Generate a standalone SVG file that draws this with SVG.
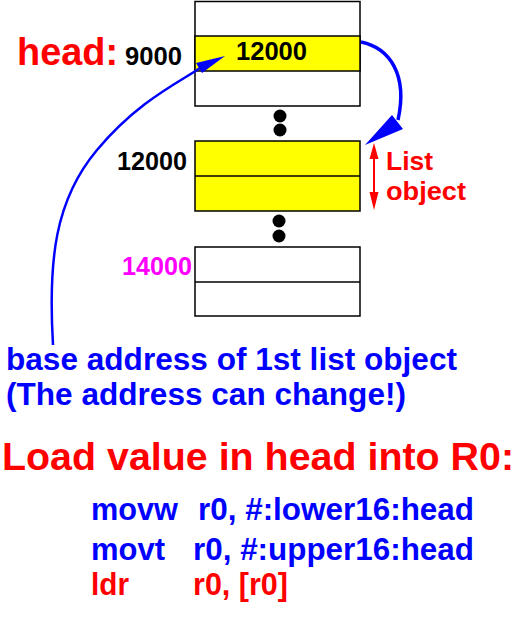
<svg xmlns="http://www.w3.org/2000/svg" width="527" height="631" viewBox="0 0 527 631">
<style>
text{font-family:"Liberation Sans",Arial,sans-serif;font-weight:bold}
.box{fill:#ffffff;stroke:#000000;stroke-width:1.5}
.yel{fill:#ffff00;stroke:#000000;stroke-width:1.5}
.div{stroke:#000000;stroke-width:1.5}
.num{font-size:25px;fill:#000000}
.blue{fill:#0000ff}
.red{fill:#ff0000}
</style>
<rect width="527" height="631" fill="#ffffff"/>
<g id="node-head-cell">
<rect class="box" x="195" y="1.5" width="165" height="104.5"/>
<rect class="yel" x="195" y="36" width="165" height="35"/>
<text class="num" x="236" y="60" textLength="71" lengthAdjust="spacingAndGlyphs">12000</text>
</g>
<g id="node-head-label">
<text x="17" y="65" font-size="38" class="red" textLength="101" lengthAdjust="spacingAndGlyphs">head:</text>
<text class="num" x="125" y="65" font-size="24" textLength="57" lengthAdjust="spacingAndGlyphs">9000</text>
</g>
<g id="node-dots1">
<circle cx="280" cy="116" r="6.5"/>
<circle cx="280" cy="130" r="6.5"/>
</g>
<g id="node-list-object">
<rect class="yel" x="195" y="141" width="165" height="70"/>
<line class="div" x1="195" y1="176" x2="360" y2="176"/>
<text class="num" x="117" y="170" textLength="70" lengthAdjust="spacingAndGlyphs">12000</text>
</g>
<g id="node-dots2">
<circle cx="279" cy="221" r="6.5"/>
<circle cx="279" cy="236" r="6.5"/>
</g>
<g id="node-third">
<rect class="box" x="195" y="247" width="165" height="69"/>
<line class="div" x1="195" y1="282" x2="360" y2="282"/>
<text class="num" x="122" y="275" style="fill:#ff00ff" textLength="70" lengthAdjust="spacingAndGlyphs">14000</text>
</g>
<g id="node-list-label">
<text x="386" y="170" font-size="26" class="red" textLength="47" lengthAdjust="spacingAndGlyphs">List</text>
<text x="386" y="200" font-size="26" class="red" textLength="80" lengthAdjust="spacingAndGlyphs">object</text>
</g>
<g id="connectors">
<path d="M361,42 C390,48 408,75 398,120" fill="none" stroke="#0000ff" stroke-width="3.5"/>
<polygon points="365,145 392,115 403,129" fill="#0000ff"/>
<path d="M53,345 C48,260 55,200 97,150 S180,82 200,68" fill="none" stroke="#0000ff" stroke-width="2.5"/>
<polygon points="225,56 196,63 202,73" fill="#0000ff"/>
<line x1="374" y1="152" x2="374" y2="200" stroke="#ff0000" stroke-width="2"/>
<polygon points="374,143 369.5,159 378.5,159" fill="#ff0000"/>
<polygon points="374,210 369.5,192 378.5,192" fill="#ff0000"/>
</g>
<g id="node-caption">
<text x="6" y="370" font-size="31.5" class="blue" textLength="451" lengthAdjust="spacingAndGlyphs">base address of 1st list object</text>
<text x="6" y="405" font-size="31.5" class="blue" textLength="400" lengthAdjust="spacingAndGlyphs">(The address can change!)</text>
</g>
<g id="node-code">
<text x="2" y="470" font-size="39" class="red" textLength="512" lengthAdjust="spacingAndGlyphs">Load value in head into R0:</text>
<text x="91" y="520" font-size="31" class="blue" textLength="87" lengthAdjust="spacingAndGlyphs">movw</text>
<text x="198" y="520" font-size="31" class="blue" textLength="276" lengthAdjust="spacingAndGlyphs">r0, #:lower16:head</text>
<text x="91" y="560" font-size="31" class="blue" textLength="74" lengthAdjust="spacingAndGlyphs">movt</text>
<text x="193" y="560" font-size="31" class="blue" textLength="281" lengthAdjust="spacingAndGlyphs">r0, #:upper16:head</text>
<text x="91" y="595" font-size="31" class="red" textLength="38" lengthAdjust="spacingAndGlyphs">ldr</text>
<text x="193" y="595" font-size="31" class="red" textLength="95" lengthAdjust="spacingAndGlyphs">r0, [r0]</text>
</g>
</svg>
